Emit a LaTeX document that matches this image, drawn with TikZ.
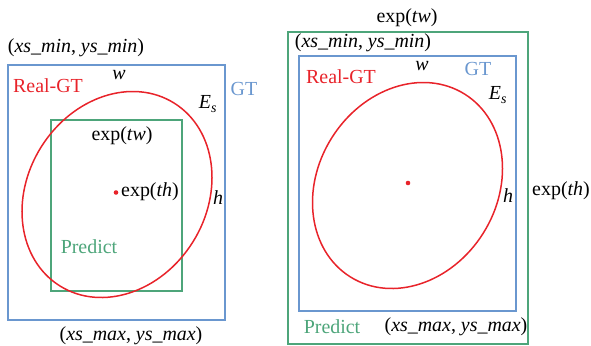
\documentclass[tikz,border=0pt]{standalone}
\usepackage{fontspec}
\setmainfont{Liberation Serif}
\definecolor{gtblue}{HTML}{6A97CF}
\definecolor{prgreen}{HTML}{4DA57A}
\definecolor{rgtred}{HTML}{E8232A}
\begin{document}
\begin{tikzpicture}[x=1bp,y=-1bp,
  lbl/.style={inner sep=0pt,font=\fontsize{20}{24}\selectfont},
  gtbox/.style={draw=gtblue,line width=1.5bp},
  prbox/.style={draw=prgreen,line width=1.5bp},
  rgt/.style={draw=rgtred,line width=1.5bp}]
\useasboundingbox (0,0) rectangle (591,345);
% ---- left panel ----
\draw[gtbox] (8,65) rectangle (225,320);
\draw[prbox] (51,120) rectangle (182,291);
\draw[rgt] (117,194.5) ellipse [x radius=107.8, y radius=89.5, rotate=58];
\fill[rgtred] (116,192.5) circle (2.3bp);
\node[lbl] (lmin) at (76,48) {(\textit{xs\_min}, \textit{ys\_min})};
\node[lbl] (lw) at (119,75) {\textit{w}};
\node[lbl,text=rgtred] (lreal) at (48,86) {Real-GT};
\node[lbl,text=gtblue] (lgt) at (244,89) {GT};
\node[lbl] (les) at (208,104) {\textit{E}\textsubscript{\textit{s}}};
\node[lbl] (ltw) at (122,136) {exp(\textit{tw})};
\node[lbl,anchor=west] (lth) at (121,192) {exp(\textit{th})};
\node[lbl] (lh) at (218,198) {\textit{h}};
\node[lbl,text=prgreen] (lpred) at (89,247) {Predict};
\node[lbl,anchor=base] (lmax) at (131,340.5) {(\textit{xs\_max}, \textit{ys\_max})};
% ---- right panel ----
\draw[prbox] (288,32) rectangle (528,344);
\draw[gtbox] (299,56) rectangle (516,311);
\draw[rgt] (407.5,185.5) ellipse [x radius=107.8, y radius=89.5, rotate=58];
\fill[rgtred] (408,183) circle (2.3bp);
\node[lbl] (rtw) at (407,18) {exp(\textit{tw})};
\node[lbl] (rmin) at (363,43) {(\textit{xs\_min}, \textit{ys\_min})};
\node[lbl] (rw) at (422,66) {\textit{w}};
\node[lbl,text=gtblue] (rgt) at (478,69) {GT};
\node[lbl,text=rgtred] (rreal) at (341,77) {Real-GT};
\node[lbl] (res) at (498,95) {\textit{E}\textsubscript{\textit{s}}};
\node[lbl] (rh) at (508,196) {\textit{h}};
\node[lbl] (rth) at (561,191) {exp(\textit{th})};
\node[lbl,text=prgreen] (rpred) at (332,327) {Predict};
\node[lbl] (rmax) at (456,327) {(\textit{xs\_max}, \textit{ys\_max})};
\end{tikzpicture}
\end{document}
